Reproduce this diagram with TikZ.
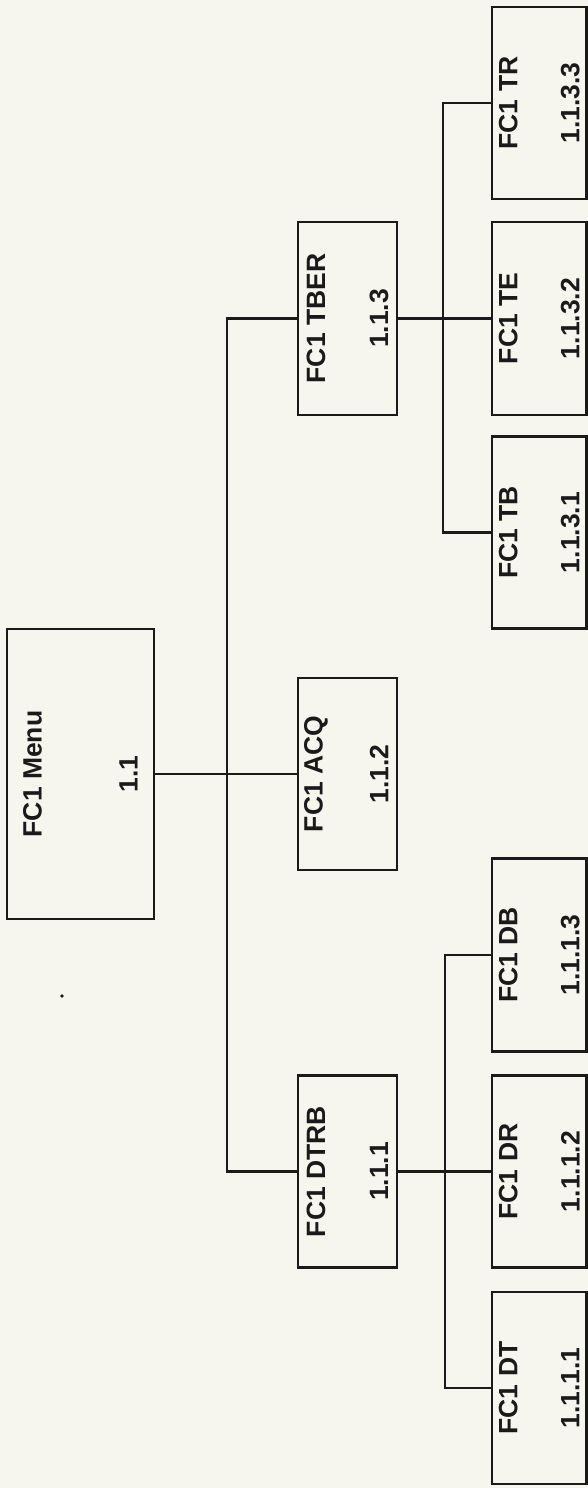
\documentclass[tikz,border=0pt]{standalone}
\usepackage{fontspec}
\setmainfont{Liberation Sans}
\definecolor{paper}{RGB}{246,246,238}
\definecolor{ink}{RGB}{26,26,26}
\tikzset{
  box/.style={draw=ink, line width=2.6pt, rectangle, inner sep=0pt, outer sep=0pt},
  lbl/.style={text=ink, rotate=90, inner sep=0pt, font=\fontsize{26.5}{30}\selectfont\bfseries},
  link/.style={draw=ink, line width=2.2pt}
}
% #1 name, #2 cx, #3 cy, #4 w, #5 h, #6 title, #7 number, #8 half spacing
\newcommand{\chartbox}[8]{%
  \node[box, minimum width=#4pt, minimum height=#5pt] (#1) at (#2,#3) {};
  \node[lbl] (#1-t) at ([xshift=-#8pt]#1.center) {#6};
  \node[lbl] (#1-n) at ([xshift=#8pt]#1.center) {#7};
}
\begin{document}
\begin{tikzpicture}[x=1pt, y=-1pt]
  \fill[paper] (0,0) rectangle (588,1488);
  \useasboundingbox (0,0) rectangle (588,1488);

  % root
  \chartbox{menu}{80.5}{774}{147}{290}{FC1 Menu}{1.1}{48}
  % level 2
  \chartbox{tber}{347.5}{318.5}{99}{193}{FC1 TBER}{1.1.3}{31.5}
  \chartbox{acq}{347.5}{774}{99}{192}{FC1 ACQ}{1.1.2}{31.5}
  \chartbox{dtrb}{347.5}{1171.5}{99}{192}{FC1 DTRB}{1.1.1}{31.5}
  % level 3 under TBER
  \chartbox{tr}{539.25}{103}{94.5}{192}{FC1 TR}{1.1.3.3}{31}
  \chartbox{te}{539.25}{318.5}{94.5}{193}{FC1 TE}{1.1.3.2}{31}
  \chartbox{tb}{539.25}{532.5}{94.5}{192}{FC1 TB}{1.1.3.1}{31}
  % level 3 under DTRB
  \chartbox{db}{539.25}{955}{94.5}{193}{FC1 DB}{1.1.1.3}{31}
  \chartbox{dr}{539.25}{1171.5}{94.5}{192}{FC1 DR}{1.1.1.2}{31}
  \chartbox{dt}{539.25}{1388}{94.5}{192}{FC1 DT}{1.1.1.1}{31}

  % bus coordinates
  \coordinate (b1) at (227,774);
  \coordinate (b2) at (443,318.5);
  \coordinate (b3) at (445,1171.5);

  % connectors
  \draw[link] (menu.east) -- (acq.west);
  \draw[link] (tber.west) -| (b1) |- (dtrb.west);
  \draw[link] (tber.east) -- (te.west);
  \draw[link] (tr.west) -| (b2) |- (tb.west);
  \draw[link] (dtrb.east) -- (dr.west);
  \draw[link] (db.west) -| (b3) |- (dt.west);

  % stray mark
  \fill[ink] (62,996) circle (1.8);
\end{tikzpicture}
\end{document}
